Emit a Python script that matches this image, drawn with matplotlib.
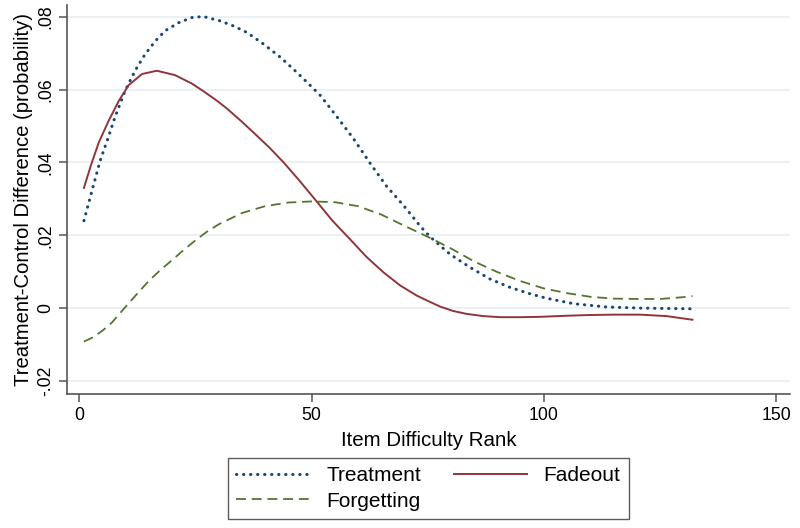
import matplotlib
matplotlib.use("Agg")
import matplotlib.pyplot as plt

# Treatment (blue dotted)
treat_x = [1, 3, 4.5, 6.3, 7.7, 9.9, 12.05, 14.2, 16.4, 18.5, 21.4, 24.2, 26.7, 30.3, 33.2,
           36.1, 39.7, 43.3, 46.8, 49.7, 51.9, 55.5, 59.0, 62.6, 66.2, 69.8, 73.4, 75.5, 79.8,
           84.1, 88.4, 92.7, 97.1, 100.6, 106.4, 113.6, 120.7, 126, 132]
treat_y = [0.0240, 0.0335, 0.0405, 0.0471, 0.0525, 0.0598, 0.0653, 0.0698, 0.0734, 0.0762,
           0.0784, 0.0798, 0.0801, 0.0789, 0.0775, 0.0757, 0.0725, 0.0689, 0.0648, 0.0612,
           0.0584, 0.0525, 0.0466, 0.0398, 0.0334, 0.0282, 0.0225, 0.0196, 0.0148, 0.0112,
           0.0080, 0.0057, 0.0039, 0.0027, 0.0012, 0.0003, 0.0000, -0.0001, -0.0002]

# Fadeout (red solid)
fade_x = [1, 2.5, 4.2, 6.3, 8.5, 10.6, 13.5, 16.7, 20.6, 24.2, 26.7, 29.6, 31.8, 35, 38.2,
          41, 44, 47.6, 51.1, 54.5, 58.3, 61.8, 65.5, 69.1, 72.7, 75.5, 77.7, 80.5, 83.4, 87,
          90.6, 95, 99.2, 105, 110, 115, 120.7, 126.4, 132]
fade_y = [0.0330, 0.0392, 0.0455, 0.0514, 0.0569, 0.0612, 0.0643, 0.0652, 0.0640, 0.0617,
          0.0596, 0.0570, 0.0548, 0.0512, 0.0474, 0.0440, 0.0400, 0.0347, 0.0293, 0.0240,
          0.0189, 0.0141, 0.0098, 0.0062, 0.0034, 0.0017, 0.0004, -0.0008, -0.0016, -0.0022,
          -0.0025, -0.0025, -0.0024, -0.0021, -0.0019, -0.0018, -0.0018, -0.0022, -0.0032]

# Forgetting (green dashed)
forg_x = [1, 3, 5, 7, 10, 12.5, 15, 17.5, 20, 22.5, 25, 27.5, 30, 35, 40, 45, 50, 55, 60,
          65, 70, 75, 80, 85, 90, 95, 100, 105, 110, 115, 120, 125, 130, 132]
forg_y = [-0.0092, -0.0080, -0.0062, -0.0040, 0.0004, 0.0040, 0.0075, 0.0105, 0.0132, 0.0160,
          0.0186, 0.0210, 0.0230, 0.0261, 0.0280, 0.0290, 0.0293, 0.0291, 0.0280, 0.0257,
          0.0226, 0.0196, 0.0164, 0.0128, 0.0099, 0.0074, 0.0054, 0.0041, 0.0031, 0.0026,
          0.0025, 0.0025, 0.0030, 0.0033]

y_ticks = [-0.02, 0, 0.02, 0.04, 0.06, 0.08]
y_labels = ["-.02", "0", ".02", ".04", ".06", ".08"]
x_ticks = [0, 50, 100, 150]

plt.rcParams['font.family'] = ['Liberation Sans', 'DejaVu Sans']

fig = plt.figure(figsize=(8, 5.28), dpi=100)
ax = fig.add_axes([0.084, 0.2538, 0.9035, 0.737])

for y in y_ticks:
    ax.axhline(y, color='#e6eef2', lw=1.2, zorder=0)

l1, = ax.plot(treat_x, treat_y, color='#1a476f', lw=2.2, linestyle=(0, (0.1, 2.2)),
              dash_capstyle='round', label='Treatment')
l2, = ax.plot(fade_x, fade_y, color='#90353b', lw=1.4, label='Fadeout')
l3, = ax.plot(forg_x, forg_y, color='#55752f', lw=1.3, linestyle=(0, (5.5, 3.2)),
              label='Forgetting')

ax.set_xlim(-2.6, 153)
ax.set_ylim(-0.0236, 0.0833)
ax.set_yticks(y_ticks)
ax.set_yticklabels(y_labels, rotation=90, va='center')
ax.set_xticks(x_ticks)
for s in ['top', 'right']:
    ax.spines[s].set_visible(False)
for s in ['left', 'bottom']:
    ax.spines[s].set_color('#555555')
    ax.spines[s].set_linewidth(1.2)
ax.tick_params(axis='both', labelsize=12.7, colors='#555555', labelcolor='black',
               length=5.5, width=1.1, pad=4)
ax.set_xlabel('Item Difficulty Rank', fontsize=14.8, labelpad=5)
ax.set_ylabel('Treatment-Control Difference (probability)', fontsize=14.6, labelpad=3)

leg = fig.legend(handles=[l1, l3, l2], labels=['Treatment', 'Forgetting', 'Fadeout'],
                 ncol=2, loc='center', bbox_to_anchor=(0.5356, 0.0748), fontsize=15,
                 frameon=True, fancybox=False, edgecolor='#333333', handlelength=3.5,
                 handletextpad=0.8, columnspacing=1.6, borderpad=0.4, labelspacing=0.3)
leg.get_frame().set_linewidth(1.0)

fig.savefig('out.png', dpi=100)
